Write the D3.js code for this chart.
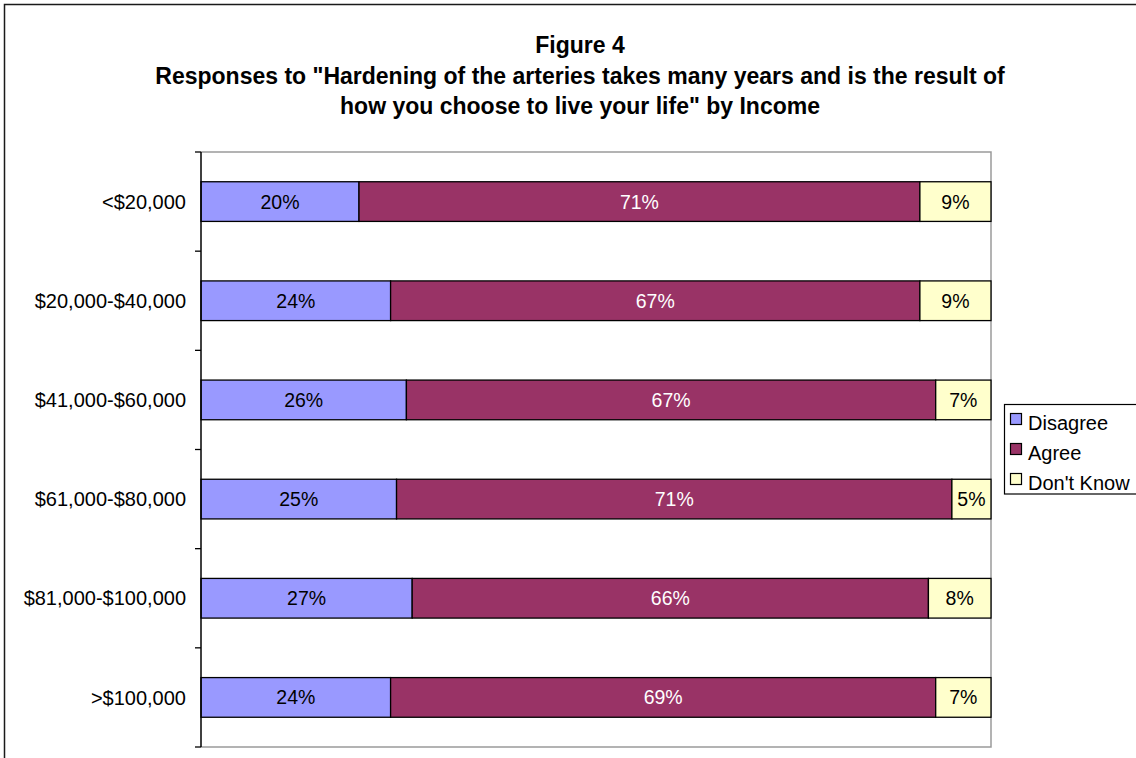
<!DOCTYPE html>
<html>
<head>
<meta charset="utf-8">
<script src="https://cdn.jsdelivr.net/npm/d3@7"></script>
<style>
  html, body { margin: 0; padding: 0; background: #fff; }
  svg { display: block; font-family: "Liberation Sans", Arial, sans-serif; }
</style>
</head>
<body>
<svg id="chart" width="1136" height="758"></svg>
<script>
// Income groups, top to bottom
const categories = ["<$20,000", "$20,000-$40,000", "$41,000-$60,000", "$61,000-$80,000", "$81,000-$100,000", ">$100,000"];
// Response shares (%) per group
const disagree = [20, 24, 26, 25, 27, 24];
const agree    = [71, 67, 67, 71, 66, 69];
const dontKnow = [9, 9, 7, 5, 8, 7];
const seriesNames = ["Disagree", "Agree", "Don't Know"];
const seriesColors = ["#9999FF", "#993366", "#FFFFCC"];
const labelColors = ["#000", "#fff", "#000"];
const titleLines = [
  "Figure 4",
  "Responses to \"Hardening of the arteries takes many years and is the result of",
  "how you choose to live your life\" by Income"
];

const svg = d3.select("#chart");

// Chart area frame
svg.append("rect")
  .attr("x", 4.5).attr("y", 4.5)
  .attr("width", 1150).attr("height", 770)
  .attr("fill", "#fff").attr("stroke", "#1a1a1a").attr("stroke-width", 1.5);

// Title
const title = svg.append("text")
  .attr("text-anchor", "middle")
  .attr("font-weight", "bold")
  .attr("font-size", "23px")
  .attr("fill", "#000");
titleLines.forEach((t, i) => {
  title.append("tspan").attr("x", 580).attr("y", 53 + i * 30.5).text(t);
});

// Plot area
const plot = { left: 201, right: 991, top: 152, bottom: 747 };

const y = d3.scaleBand()
  .domain(categories)
  .range([plot.top, plot.bottom])
  .paddingInner(0.6)
  .paddingOuter(0.3);

const x = d3.scaleLinear().domain([0, 1]).range([plot.left, plot.right]);

// Rows normalised to 100%
const rows = categories.map((c, i) => ({ cat: c, Disagree: disagree[i], Agree: agree[i], "Don't Know": dontKnow[i] }));
const stack = d3.stack().keys(seriesNames).offset(d3.stackOffsetExpand);
const stacked = stack(rows);

// Plot area border (top, right, bottom)
svg.append("path")
  .attr("d", `M${plot.left},${plot.top}H${plot.right}V${plot.bottom}H${plot.left}`)
  .attr("fill", "none").attr("stroke", "#9a9a9a").attr("stroke-width", 1.5);

// Bars
stacked.forEach((s, si) => {
  const g = svg.append("g");
  g.selectAll("rect").data(s).enter().append("rect")
    .attr("x", d => x(d[0]))
    .attr("y", d => y(d.data.cat))
    .attr("width", d => x(d[1]) - x(d[0]))
    .attr("height", y.bandwidth())
    .attr("fill", seriesColors[si])
    .attr("stroke", "#000").attr("stroke-width", 1.3);
  g.selectAll("text").data(s).enter().append("text")
    .attr("x", d => (x(d[0]) + x(d[1])) / 2)
    .attr("y", d => y(d.data.cat) + y.bandwidth() / 2)
    .attr("dy", "0.36em")
    .attr("text-anchor", "middle")
    .attr("font-size", "19.5px")
    .attr("fill", labelColors[si])
    .text(d => d.data[seriesNames[si]] + "%");
});

// Category axis: line with ticks at category boundaries
const step = y.step();
const axisG = svg.append("g");
axisG.append("line")
  .attr("x1", plot.left).attr("x2", plot.left)
  .attr("y1", plot.top).attr("y2", plot.bottom)
  .attr("stroke", "#000").attr("stroke-width", 1.5);
axisG.selectAll("line.tick").data(d3.range(categories.length + 1)).enter().append("line")
  .attr("class", "tick")
  .attr("x1", plot.left - 6).attr("x2", plot.left)
  .attr("y1", i => plot.top + i * step).attr("y2", i => plot.top + i * step)
  .attr("stroke", "#000").attr("stroke-width", 1.3);
axisG.selectAll("text").data(categories).enter().append("text")
  .attr("x", 186)
  .attr("y", d => y(d) + y.bandwidth() / 2)
  .attr("dy", "0.36em")
  .attr("text-anchor", "end")
  .attr("font-size", "20px")
  .attr("fill", "#000")
  .text(d => d);

// Legend
const legend = svg.append("g");
legend.append("rect")
  .attr("x", 1004.5).attr("y", 404.5)
  .attr("width", 150).attr("height", 89.5)
  .attr("fill", "#fff").attr("stroke", "#000").attr("stroke-width", 1.2);
seriesNames.forEach((n, i) => {
  legend.append("rect")
    .attr("x", 1010.5).attr("y", 413.5 + i * 30)
    .attr("width", 11).attr("height", 11)
    .attr("fill", seriesColors[i]).attr("stroke", "#000").attr("stroke-width", 1.2);
  legend.append("text")
    .attr("x", 1028).attr("y", 430 + i * 30)
    .attr("font-size", "20px")
    .attr("fill", "#000")
    .text(n);
});
</script>
</body>
</html>
